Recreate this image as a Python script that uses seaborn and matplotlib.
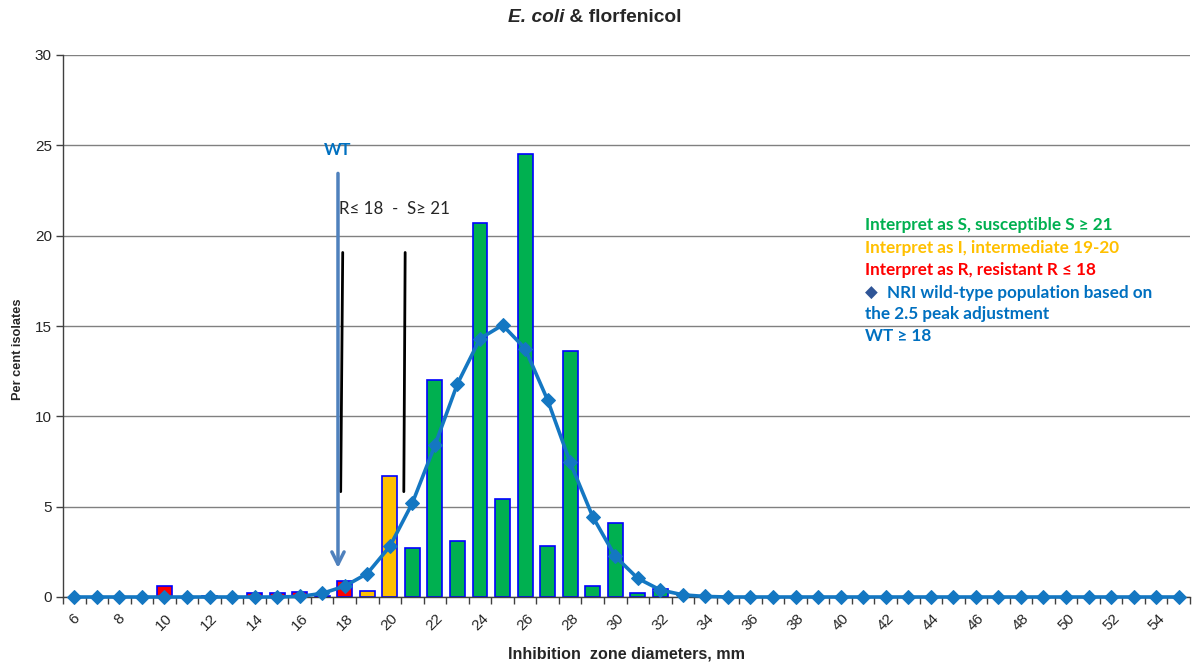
import numpy as np
import pandas as pd
import matplotlib
matplotlib.use("Agg")
import matplotlib.pyplot as plt
import seaborn as sns

# ---- data ----
zones = list(range(6, 56))
bar_zones = [10, 12, 14, 15, 16, 17, 18, 19, 20, 21, 22, 23, 24, 25, 26, 27, 28, 29, 30, 31, 32]
bar_values = [0.6, 0.05, 0.2, 0.2, 0.3, 0.05, 0.9, 0.35, 6.7, 2.7, 12.0, 3.1, 20.7, 5.4, 24.5,
              2.8, 13.6, 0.6, 4.1, 0.2, 0.45]
bar_class = ["R", "R", "R", "R", "R", "R", "R", "I", "I", "S", "S", "S", "S", "S", "S",
             "S", "S", "S", "S", "S", "S"]
wt_values = [0, 0, 0, 0, 0, 0, 0, 0, 0, 0,          # 6-15
             0.03, 0.2, 0.6, 1.3, 2.8, 5.2, 8.4, 11.8, 14.3, 15.05,   # 16-25
             13.75, 10.9, 7.45, 4.45, 2.25, 1.03, 0.39, 0.12, 0.03, 0,  # 26-35
             0, 0, 0, 0, 0, 0, 0, 0, 0, 0,          # 36-45
             0, 0, 0, 0, 0, 0, 0, 0, 0, 0]          # 46-55
tick_labels = [str(z) for z in range(6, 56, 2)]
legend_lines = ["Interpret as S, susceptible S \u2265 21",
                "Interpret as I, intermediate 19-20",
                "Interpret as R, resistant R \u2264 18",
                "NRI wild-type population based on",
                "the 2.5 peak adjustment",
                "WT \u2265 18"]

palette = {"S": "#00B050", "I": "#FFC000", "R": "#FF0000"}
blue = "#0070C0"

sns.set_theme(style="white")
plt.rcParams["font.family"] = ["Liberation Sans", "DejaVu Sans"]

fig = plt.figure(figsize=(11.92, 6.68), dpi=100)
ax = fig.add_axes([63 / 1192, 71 / 668, 1127 / 1192, 542 / 668])

df = pd.DataFrame({"zone": bar_zones, "pct": bar_values, "cls": bar_class})
sns.barplot(data=df, x="zone", y="pct", hue="cls", palette=palette, native_scale=True,
            dodge=False, width=0.66, edgecolor="#0000FF", linewidth=1.2, legend=False,
            saturation=1, ax=ax, zorder=2)

sns.lineplot(x=zones, y=wt_values, color="#1477C2", linewidth=2.6, marker="D",
             markersize=7.5, markeredgecolor="#1477C2", ax=ax, zorder=4, clip_on=False)
for ln in ax.lines:
    ln.set_clip_on(False)

ax.set_xlim(5.5, 55.5)
ax.set_ylim(0, 30)
ax.set_yticks(range(0, 31, 5))
ax.yaxis.grid(True, color="#808080", linewidth=1)
ax.set_axisbelow(True)
ax.set_xticks(range(6, 56, 2))
ax.set_xticklabels(tick_labels, rotation=45, ha="center", fontsize=11)
ax.set_xticks(np.arange(5.5, 56, 1), minor=True)
ax.tick_params(axis="x", which="major", length=0, pad=10)
ax.tick_params(axis="x", which="minor", length=5, color="#404040", width=1, direction="out", bottom=True)
ax.tick_params(axis="y", length=5, color="#404040", width=1, direction="out", left=True,
               labelsize=11, pad=3)
for s in ["top", "right"]:
    ax.spines[s].set_visible(False)
for s in ["left", "bottom"]:
    ax.spines[s].set_color("#404040")
    ax.spines[s].set_linewidth(1)

ax.set_xlabel("Inhibition  zone diameters, mm", fontsize=11.6, fontweight="bold", labelpad=10)
ax.set_ylabel("Per cent isolates", fontsize=9.2, fontweight="bold")
ax.yaxis.set_label_coords((24 - 63) / 1127, (597 - 349) / 542)

# title
fig.text(564 / 1192, 1 - 17 / 668, "E. coli", ha="right", va="center", fontsize=13.8,
         fontweight="bold", fontstyle="italic")
fig.text(564 / 1192, 1 - 17 / 668, " & florfenicol", ha="left", va="center", fontsize=13.8,
         fontweight="bold")

# breakpoint lines
ax.plot([17.91, 17.82], [19.07, 5.83], color="black", linewidth=2, zorder=3)
ax.plot([20.68, 20.62], [19.07, 5.83], color="black", linewidth=2, zorder=3)
ax.text(17.73, 21.5, "R\u2264 18  -  S\u2265 21", fontsize=12.2, va="center", ha="left",
        family=["Lato", "DejaVu Sans"], zorder=5)

# WT arrow
ax.annotate("", xy=(17.7, 1.45), xytext=(17.7, 23.6),
            arrowprops=dict(arrowstyle="->", color="#4F81BD", lw=2.5, mutation_scale=22),
            zorder=5)
ax.text(17.7, 24.75, "WT", color=blue, fontsize=12, fontweight="bold", ha="center",
        va="center", family=["Lato", "DejaVu Sans"])

# legend-like text
lx = 41.07
ys = [20.6, 19.3, 18.1, 16.85, 15.66, 14.44]
cols = ["#00B050", "#FFC000", "#FF0000", blue, blue, blue]
for i, (t, y, c) in enumerate(zip(legend_lines, ys, cols)):
    x = lx
    if i == 3:
        ax.text(lx, y, "\u25C6", color="#2F5597", fontsize=12, va="center", ha="left",
                family=["DejaVu Sans"])
        x = lx + 0.98
    ax.text(x, y, t, color=c, fontsize=12.3, fontweight="bold", va="center", ha="left",
            family=["Lato", "DejaVu Sans"])

fig.savefig("out.png", dpi=100)
